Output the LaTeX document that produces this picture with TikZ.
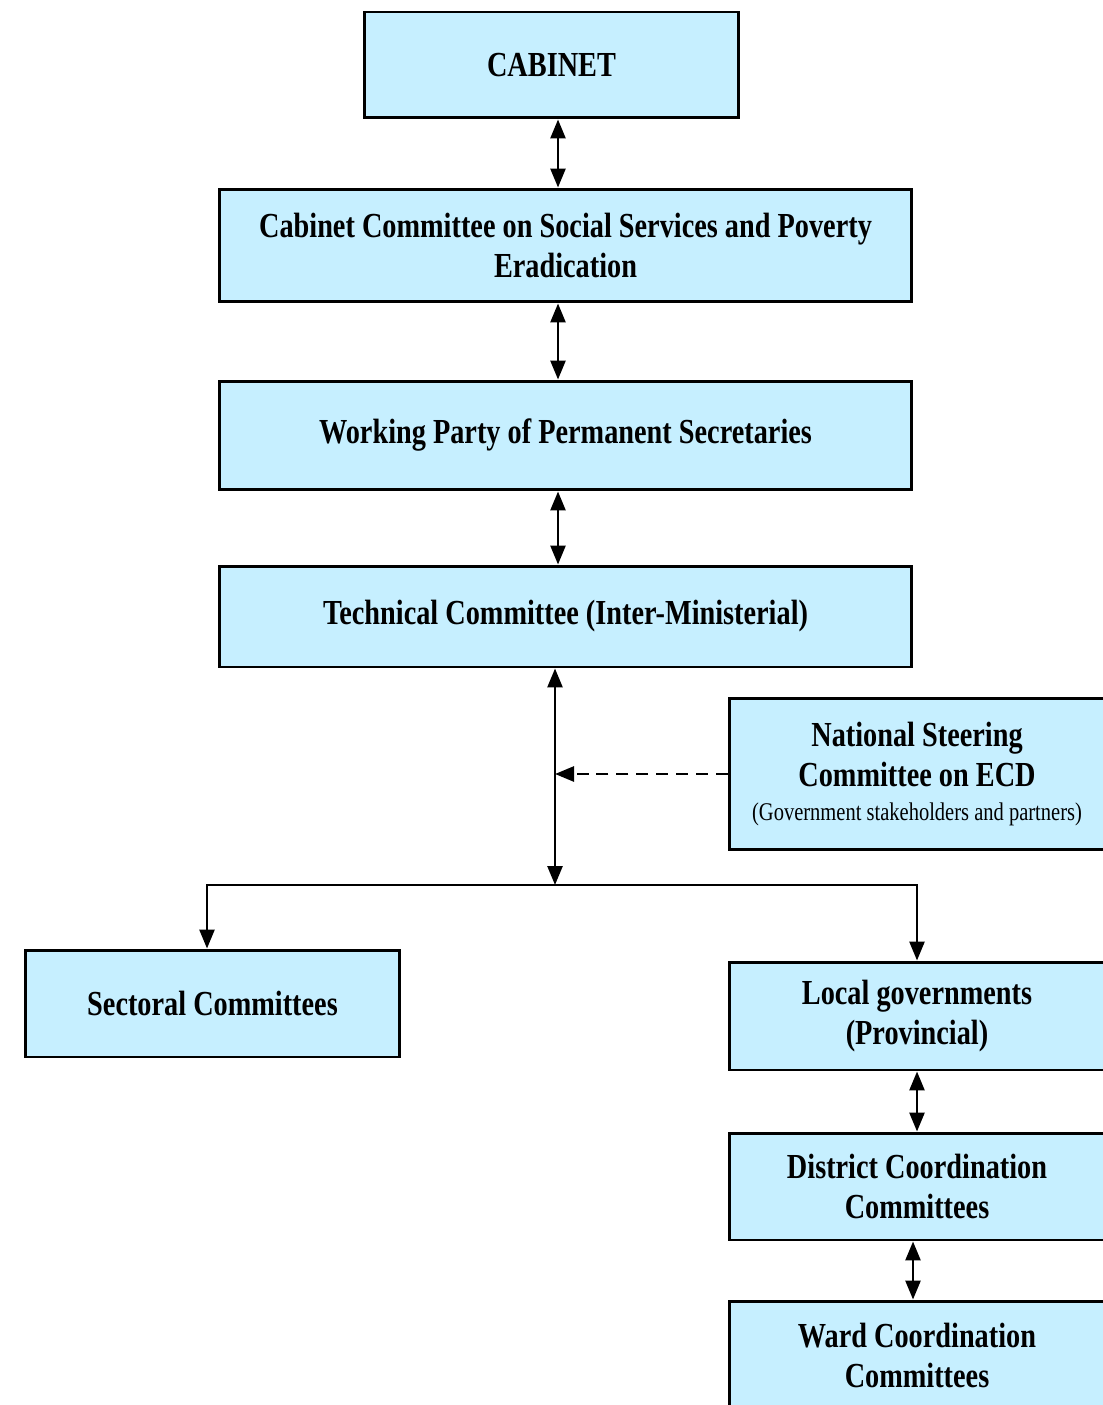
\documentclass[tikz,border=0pt]{standalone}
\usepackage{fontspec}
\setmainfont{Liberation Serif}[FakeStretch=0.805]
\usepackage{tikz}
\usetikzlibrary{arrows.meta}

\definecolor{boxfill}{RGB}{198,239,255}

\begin{document}
\begin{tikzpicture}[x=0.02cm, y=-0.02cm,
    box/.style={draw, line width=1.7pt, fill=boxfill, align=center, inner sep=0pt,
        font=\fontsize{20}{22.8}\selectfont\bfseries},
    biarrow/.style={line width=1.5pt, {Triangle[length=0.38cm,width=0.3cm]}-{Triangle[length=0.38cm,width=0.3cm]}},
    onearrow/.style={line width=1.5pt, -{Triangle[length=0.38cm,width=0.3cm]}},
    dasharrow/.style={line width=1.5pt, dash pattern=on 6.8pt off 4.5pt, -{Triangle[length=0.38cm,width=0.3cm]}}]
    \useasboundingbox (0,0) rectangle (1102,1405);
    \node[box, minimum width=7.5cm, minimum height=2.12cm] (cabinet) at (551.5,65) {CABINET};
    \node[box, minimum width=13.86cm, minimum height=2.26cm] (ccss) at (565.5,245.5)
        {Cabinet Committee on Social Services and Poverty\\Eradication};
    \node[box, minimum width=13.86cm, minimum height=2.18cm] (party) at (565.5,435.5)
        {Working Party of Permanent Secretaries};
    \node[box, minimum width=13.86cm, minimum height=2.02cm] (tech) at (565.5,616.5)
        {Technical Committee (Inter-Ministerial)};
    \node[box, minimum width=7.52cm, minimum height=3.04cm] (steering) at (917,774)
        {National Steering\\[0pt]Committee on ECD\\[-3pt]{\fontsize{14.5}{17}\selectfont\mdseries (Government stakeholders and partners)}};
    \node[box, minimum width=7.5cm, minimum height=2.14cm] (sectoral) at (212.5,1003.5)
        {Sectoral Committees};
    \node[box, minimum width=7.52cm, minimum height=2.16cm] (local) at (917,1016)
        {Local governments\\(Provincial)};
    \node[box, minimum width=7.52cm, minimum height=2.14cm] (district) at (917,1186.5)
        {District Coordination\\Committees};
    \node[box, minimum width=7.52cm, minimum height=2.18cm] (ward) at (917,1355.5)
        {Ward Coordination\\Committees};

    \coordinate (axis) at (558,0);
    \coordinate (junc) at (555,885);

    \draw[biarrow] (cabinet.south -| axis) -- (ccss.north -| axis);
    \draw[biarrow] (ccss.south -| axis) -- (party.north -| axis);
    \draw[biarrow] (party.south -| axis) -- (tech.north -| axis);
    \draw[biarrow] (tech.south -| junc) -- (junc);
    \draw[dasharrow] (steering.west) -- (steering.west -| junc);
    \draw[onearrow] (junc) -| ([xshift=-0.11cm]sectoral.north);
    \draw[onearrow] (junc) -| (local.north);
    \draw[biarrow] (local.south) -- (district.north);
    \draw[biarrow] ([xshift=-0.08cm]district.south) -- ([xshift=-0.08cm]ward.north);
\end{tikzpicture}
\end{document}
